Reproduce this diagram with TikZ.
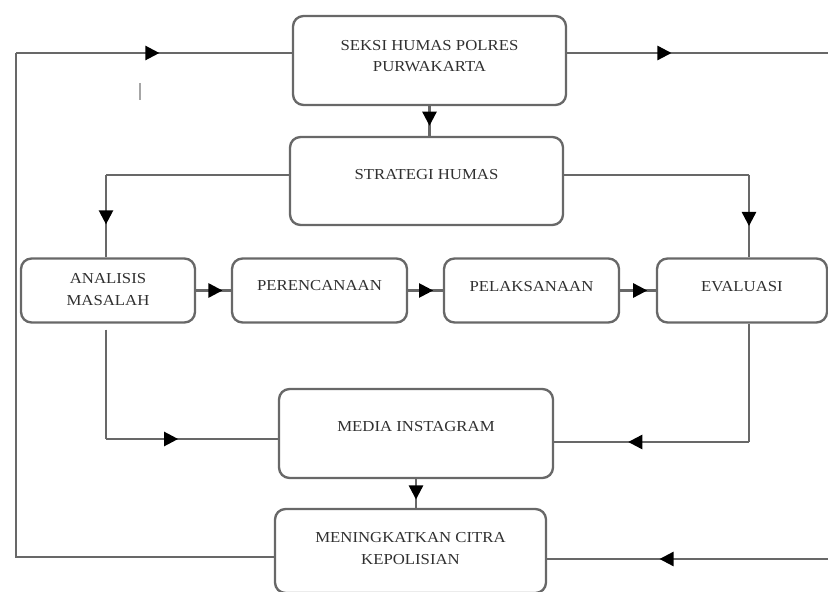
\documentclass[tikz,border=0pt]{standalone}
\usepackage{fontspec}
\setmainfont{Liberation Serif}[FakeStretch=1.1]
\usetikzlibrary{arrows.meta,decorations.markings}
\definecolor{linegray}{HTML}{686868}
\definecolor{txtgray}{HTML}{303030}

\begin{document}
\begin{tikzpicture}[x=0.03cm,y=-0.03cm,
  box/.style={draw=linegray,line width=2pt,rounded corners=9pt,inner sep=0pt},
  txt/.style={text=txtgray,align=center,font=\fontsize{13}{18}\selectfont},
  link/.style={draw=linegray,line width=2pt},
  tip/.style={link,postaction={decorate,decoration={markings,mark=at position #1 with {\arrow[black]{Triangle[length=12pt,width=12pt]}}}}},
  tip/.default=0.5]
  \useasboundingbox (0,0) rectangle (828,592);
  % kotak
  \node[box,minimum width=8.19cm,minimum height=2.67cm] (seksi) at (429.5,60.5) {};
  \node[box,minimum width=8.19cm,minimum height=2.64cm] (strat) at (426.5,181) {};
  \node[box,minimum width=5.22cm,minimum height=1.92cm] (anal) at (108,290.5) {};
  \node[box,minimum width=5.25cm,minimum height=1.92cm] (peren) at (319.5,290.5) {};
  \node[box,minimum width=5.25cm,minimum height=1.92cm] (pelak) at (531.5,290.5) {};
  \node[box,minimum width=5.10cm,minimum height=1.92cm] (eval) at (742,290.5) {};
  \node[box,minimum width=8.22cm,minimum height=2.67cm] (media) at (416,433.5) {};
  \node[box,minimum width=8.13cm,minimum height=2.52cm] (mening) at (410.5,551) {};
  % teks
  \node[txt] (tseksi) at ([yshift=0.135cm]seksi.center) {SEKSI HUMAS POLRES\\PURWAKARTA};
  \node[txt] (tstrat) at ([yshift=0.18cm]strat.center) {STRATEGI HUMAS};
  \node[txt] (tanal) at ([yshift=0.03cm]anal.center) {ANALISIS\\MASALAH};
  \node[txt] (tperen) at ([yshift=0.16cm]peren.center) {PERENCANAAN};
  \node[txt] (tpelak) at ([yshift=0.11cm]pelak.center) {PELAKSANAAN};
  \node[txt] (teval) at ([yshift=0.11cm]eval.center) {EVALUASI};
  \node[txt] (tmedia) at ([yshift=0.195cm]media.center) {MEDIA INSTAGRAM};
  \node[txt] (tmening) at ([yshift=0.075cm]mening.center) {MENINGKATKAN CITRA\\KEPOLISIAN};
  % titik belok
  \coordinate (tl) at (16,53); \coordinate (tr) at (828,53); \coordinate (bl) at (16,557); \coordinate (br) at (828,559);
  \coordinate (sl) at (106,175); \coordinate (sr) at (749,175); \coordinate (ml) at (106,439); \coordinate (mr) at (749,442);
  % garis
  \draw[link] (mening.west |- bl) -- (bl) -- (tl);
  \draw[tip=0.52] (tl) -- (seksi.west |- tl);
  \draw[tip=0.4] (seksi.east |- tl) -- (tr);
  \draw[tip=0.6] (br) -- (mening.east |- br);
  \draw[tip=0.66] (seksi.south) -- (seksi.south |- strat.north);
  \draw[link] (strat.west |- sl) -- (sl); \draw[tip=0.6] (sl) -- (sl |- anal.north);
  \draw[link] (strat.east |- sr) -- (sr); \draw[tip=0.62] (sr) -- (sr |- eval.north);
  \draw[tip=0.76] (anal.east) -- (peren.west);
  \draw[tip=0.72] (peren.east) -- (pelak.west);
  \draw[tip=0.76] (pelak.east) -- (eval.west);
  \draw[link] ([yshift=-0.18cm]sl |- anal.south) -- (ml); \draw[tip=0.42] (ml) -- (media.west |- ml);
  \draw[link] (sr |- eval.south) -- (mr); \draw[tip=0.62] (mr) -- (media.east |- mr);
  \draw[tip=0.71] (media.south) -- (media.south |- mening.north);
  \draw[gray!70,line width=1pt] (140,83) -- (140,100);
\end{tikzpicture}
\end{document}
